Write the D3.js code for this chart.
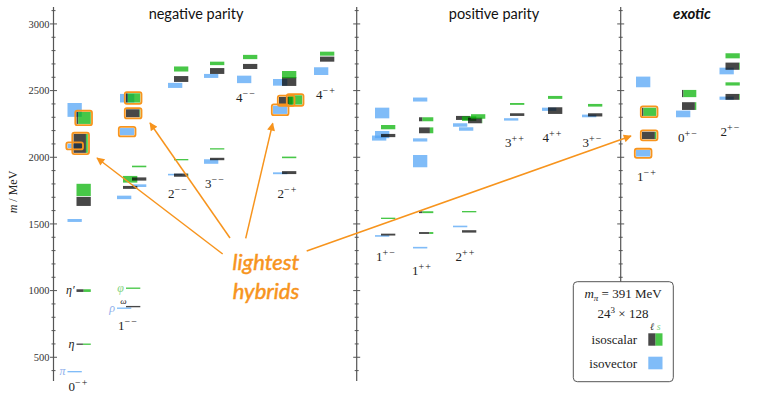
<!DOCTYPE html>
<html>
<head>
<meta charset="utf-8">
<script src="https://cdn.jsdelivr.net/npm/d3@7"></script>
<style>
  body { margin: 0; background: #fff; }
  .serif { font-family: 'Liberation Serif', 'DejaVu Serif', serif; }
  .sans { font-family: Lato, 'Open Sans', sans-serif; }
</style>
</head>
<body>
<svg id="chart" width="757" height="393"></svg>
<script>
// J^PC channels, left to right
const columns = ['0-+', '1--', '2--', '3--', '4--', '2-+', '4-+',
                 '1+-', '1++', '2++', '3++', '4++', '3+-',
                 '1-+', '0+-', '2+-'];
const panels = ['negative parity', 'positive parity', 'exotic'];

// isovector levels: [channel, mass (MeV), half error (MeV), slot, hybrid]
const isovector = [
  ['0-+', 392, 5, 0, false], ['0-+', 1526, 11, 0, false], ['0-+', 2085, 17, 0, true], ['0-+', 2355, 52, 0, false],
  ['1--', 868, 5, 0, false], ['1--', 1699, 13, 0, false], ['1--', 1787, 10, 5, false],
  ['1--', 2192, 27, 1, true], ['1--', 2443, 32, 1, false],
  ['2--', 1870, 6, 0, false], ['2--', 2539, 19, 0, false],
  ['3--', 1968, 17, 0, false], ['3--', 2610, 15, 0, false],
  ['4--', 2584, 28, 0, false],
  ['2-+', 1880, 7, 0, false], ['2-+', 2356, 31, 0, true], ['2-+', 2562, 25, 0, false],
  ['4-+', 2646, 29, 0, false],
  ['1+-', 1410, 6, 1, false], ['1+-', 2144, 19, 0, false], ['1+-', 2170, 27, 1, false], ['1+-', 2332, 40, 1, false],
  ['1++', 1322, 6, 0, false], ['1++', 1971, 46, 0, false], ['1++', 2130, 12, 0, false], ['1++', 2433, 15, 0, false],
  ['2++', 1481, 6, 0, false], ['2++', 2212, 13, 2, false], ['2++', 2242, 13, 0, false],
  ['3++', 2284, 9, 0, false],
  ['4++', 2360, 12, 0, false],
  ['3+-', 2310, 10, 0, false],
  ['1-+', 2030, 25, 0, true], ['1-+', 2565, 40, 0, false],
  ['0+-', 2325, 25, 0, false],
  ['2+-', 2443, 12, 0, false], ['2+-', 2647, 25, 0, false]
];

// isoscalar levels: [channel, mass, half error, strange fraction, slot, hybrid]
const isoscalar = [
  ['0-+', 598, 5, 0.55, 3, false], ['0-+', 1000, 10, 0.5, 3, false],
  ['0-+', 1669, 34, 0, 3, false], ['0-+', 1755, 46, 1, 3, false],
  ['0-+', 2104, 71, 0.13, 2, true], ['0-+', 2295, 45, 0.88, 3, true],
  ['1--', 880, 5, 0, 3, false], ['1--', 1018, 5, 1, 3, false],
  ['1--', 1774, 11, 0, 2, false], ['1--', 1835, 25, 1, 2, false], ['1--', 1837, 12, 0, 5, false],
  ['1--', 1931, 6, 1, 5, false], ['1--', 2330, 30, 0.05, 3, true], ['1--', 2445, 35, 0.88, 3, true],
  ['2--', 1866, 12, 0.03, 2, false], ['2--', 1982, 5, 1, 2, false], ['2--', 2587, 22, 0, 2, false], ['2--', 2662, 19, 1, 2, false],
  ['3--', 1987, 9, 0, 2, false], ['3--', 2063, 4, 1, 2, false], ['3--', 2647, 22, 0, 2, false], ['3--', 2704, 13, 1, 2, false],
  ['4--', 2681, 19, 0, 2, false], ['4--', 2752, 16, 1, 2, false],
  ['2-+', 1885, 11, 0, 3, false], ['2-+', 1999, 6, 1, 3, false],
  ['2-+', 2424, 29, 0.05, 2, true], ['2-+', 2430, 35, 0.97, 5, true],
  ['2-+', 2568, 33, 0, 3, false], ['2-+', 2620, 27, 1, 3, false],
  ['4-+', 2736, 19, 0, 2, false], ['4-+', 2777, 15, 1, 2, false],
  ['1+-', 1420, 7, 0, 3, false], ['1+-', 1542, 5, 1, 3, false], ['1+-', 2163, 12, 0, 3, false], ['1+-', 2226, 16, 1, 3, false],
  ['1++', 1432, 7, 0.27, 2, false], ['1++', 1588, 7, 0.76, 2, false], ['1++', 2202, 22, 0.24, 2, false], ['1++', 2285, 15, 0.76, 2, false],
  ['2++', 1444, 9, 0, 3, false], ['2++', 1592, 5, 1, 3, false], ['2++', 2295, 15, 0, 1, false],
  ['2++', 2290, 17, 1, 3, false], ['2++', 2276, 21, 0.03, 5, false], ['2++', 2306, 17, 1, 6, false],
  ['3++', 2320, 10, 0, 2, false], ['3++', 2400, 7, 1, 2, false],
  ['4++', 2350, 25, 0, 2, false], ['4++', 2449, 11, 1, 2, false],
  ['3+-', 2318, 12, 0, 2, false], ['3+-', 2390, 10, 1, 2, false],
  ['1-+', 2164, 28, 0.1, 2, true], ['1-+', 2341, 31, 0.9, 2, true],
  ['0+-', 2384, 29, 0.1, 2, false], ['0+-', 2478, 27, 0.9, 2, false],
  ['2+-', 2453, 22, 0.05, 2, false], ['2+-', 2550, 12, 1, 2, false],
  ['2+-', 2683, 27, 0.05, 2, false], ['2+-', 2761, 19, 1, 2, false]
];

// named ground states: [name, channel, mass, slot, kind]
const named = [
  ['π', '0-+', 392, 0, 'vec'], ['η', '0-+', 598, 3, 'light'], ['η′', '0-+', 1000, 3, 'light'],
  ['ρ', '1--', 868, 0, 'vec'], ['ω', '1--', 880, 3, 'light'], ['φ', '1--', 1018, 3, 'strange']
];

const massTicks = d3.range(400, 3101, 100);
const massLabels = [500, 1000, 1500, 2000, 2500, 3000];
const pionMass = 391;
const latticeL = 24, latticeT = 128;

// ---- layout ----
const colors = { vec: '#56a6f6', light: '#0a0a0a', strange: '#0bb40b', orange: '#f7941d', axis: '#555' };
const textColors = { vec: '#8fb0ec', light: '#222', strange: '#7fd47f' };
const colLeft = [67.5, 117, 168, 204, 237, 273, 314, 372, 413, 453, 504, 542, 582, 636, 676, 719.5];
const labelAt = { // [dx from column, baseline mass]
  '0-+': [11, 245], '1--': [11, 705], '2--': [10, 1695], '3--': [11, 1772], '4--': [9, 2417],
  '2-+': [14.5, 1691], '4-+': [12, 2437], '1+-': [14, 1222], '1++': [9, 1117], '2++': [12.5, 1222],
  '3++': [11, 2077], '4++': [10.5, 2117], '3+-': [10.5, 2080], '1-+': [11, 1825], '0+-': [12, 2117], '2+-': [11, 2160]
};
const axisX = [53.5, 356.7, 620.7];
const titleX = [196, 494, 692];
const boxW = 14.3;

const svg = d3.select('#chart');
const y = d3.scaleLinear().domain([322, 3127]).range([381, 7]);
const x = d3.scaleOrdinal(columns, colLeft);
const slot = d3.scaleLinear([0, 1], [0, 3]);

const defs = svg.append('defs');
defs.append('marker').attr('id', 'head')
  .attr('viewBox', '0 0 10 10').attr('refX', 9).attr('refY', 5)
  .attr('markerWidth', 9).attr('markerHeight', 8).attr('markerUnits', 'userSpaceOnUse')
  .attr('orient', 'auto')
  .append('path').attr('d', 'M0,0 L10,5 L0,10 z').attr('fill', colors.orange);

/* axes */
axisX.forEach((ax, i) => {
  const g = svg.append('g').attr('stroke', colors.axis);
  g.append('line').attr('x1', ax).attr('x2', ax).attr('y1', y(3127)).attr('y2', y(322)).attr('stroke-width', 1.2);
  g.selectAll('.tk').data(massTicks).enter().append('line')
    .attr('x1', d => ax - (d % 500 === 0 ? 3.5 : 2))
    .attr('x2', d => ax + (d % 500 === 0 ? 3.5 : 2))
    .attr('y1', d => y(d)).attr('y2', d => y(d)).attr('stroke-width', 1);
  if (i === 0) {
    svg.append('g').selectAll('text').data(massLabels).enter().append('text')
      .attr('class', 'serif').attr('font-size', 10.5).attr('fill', '#333')
      .attr('text-anchor', 'end').attr('x', ax - 4).attr('y', d => y(d) + 3.6)
      .text(d => d);
  }
});

const yl = svg.append('text').attr('class', 'serif').attr('font-size', 12).attr('fill', '#222')
  .attr('text-anchor', 'middle').attr('transform', 'translate(17,192) rotate(-90)');
yl.append('tspan').attr('font-style', 'italic').text('m');
yl.append('tspan').text(' / MeV');

/* panel titles */
svg.selectAll('.title').data(panels).enter().append('text')
  .attr('class', 'sans').attr('font-size', (d, i) => i === 2 ? 15 : 14.5)
  .attr('font-weight', (d, i) => i === 2 ? 'bold' : 'normal')
  .attr('font-style', (d, i) => i === 2 ? 'italic' : 'normal')
  .attr('fill', '#111').attr('text-anchor', 'middle')
  .attr('x', (d, i) => titleX[i]).attr('y', 18.5).text(d => d);

/* levels */
function box(m, err) {
  const top = y(m + err), bot = y(m - err);
  const h = Math.max(bot - top, 1.3);
  return { top: (top + bot) / 2 - h / 2, h };
}

const levels = svg.append('g');
isovector.forEach(([c, m, e, s]) => {
  const b = box(m, e);
  levels.append('rect').attr('x', x(c) + slot(s)).attr('y', b.top)
    .attr('width', boxW).attr('height', b.h)
    .attr('fill', colors.vec).attr('fill-opacity', 0.75);
});
isoscalar.forEach(([c, m, e, f, s]) => {
  const b = box(m, e);
  const x0 = x(c) + slot(s);
  const wl = boxW * (1 - f);
  if (wl > 0) levels.append('rect').attr('x', x0).attr('y', b.top).attr('width', wl).attr('height', b.h)
    .attr('fill', colors.light).attr('fill-opacity', 0.75);
  if (f > 0) levels.append('rect').attr('x', x0 + wl).attr('y', b.top).attr('width', boxW * f).attr('height', b.h)
    .attr('fill', colors.strange).attr('fill-opacity', 0.75);
});

/* hybrid outlines */
const hyb = isovector.filter(d => d[4]).map(d => [d[0], d[1], d[2], d[3]])
  .concat(isoscalar.filter(d => d[5]).map(d => [d[0], d[1], d[2], d[4]]));
svg.append('g').selectAll('rect').data(hyb).enter().append('rect')
  .attr('x', d => x(d[0]) + slot(d[3]) - 1.2)
  .attr('y', d => box(d[1], d[2]).top - 1.2)
  .attr('width', boxW + 2.4)
  .attr('height', d => box(d[1], d[2]).h + 2.4)
  .attr('rx', 2).attr('fill', 'none').attr('stroke', colors.orange).attr('stroke-width', 1.8);

/* named states */
named.forEach(([n, c, m, s, k]) => {
  const t = svg.append('text').attr('class', 'serif').attr('font-style', 'italic').attr('fill', textColors[k])
    .attr('text-anchor', 'end');
  if (n === 'ω') {
    t.attr('font-size', 9).attr('x', x(c) + slot(s) + 0.5).attr('y', y(m) - 2.5).text(n);
  } else {
    t.attr('font-size', 12).attr('x', x(c) + slot(s) - 2).attr('y', y(m) + 3.5).text(n);
  }
});

/* channel labels */
columns.forEach(c => {
  const [dx, mm] = labelAt[c];
  const t = svg.append('text').attr('class', 'serif').attr('fill', '#222').attr('text-anchor', 'middle')
    .attr('x', x(c) + dx).attr('y', y(mm));
  t.append('tspan').attr('font-size', 13).text(c[0]);
  t.append('tspan').attr('font-size', 10).attr('dy', -5).attr('letter-spacing', 1)
    .text(c.slice(1).replace(/-/g, '\u2212'));
});

/* annotation */
const arrows = [[222.7, 254, 97, 158], [230, 238, 150, 123], [245.7, 238.3, 272.7, 123.3], [306.7, 251, 631, 136]];
svg.append('g').selectAll('line').data(arrows).enter().append('line')
  .attr('x1', d => d[0]).attr('y1', d => d[1]).attr('x2', d => d[2]).attr('y2', d => d[3])
  .attr('stroke', colors.orange).attr('stroke-width', 1.5).attr('marker-end', 'url(#head)');
svg.selectAll('.hyb').data(['lightest', 'hybrids']).enter().append('text')
  .attr('class', 'sans').attr('font-style', 'italic').attr('font-size', 22).attr('fill', colors.orange)
  .attr('stroke', colors.orange).attr('stroke-width', 0.5)
  .attr('text-anchor', 'middle').attr('x', 266).attr('y', (d, i) => 270 + i * 29).text(d => d);

/* legend */
const lg = svg.append('g');
lg.append('rect').attr('x', 573.3).attr('y', 281.7).attr('width', 100).attr('height', 100).attr('rx', 4)
  .attr('fill', '#fff').attr('stroke', '#555').attr('stroke-width', 1);
const t1 = lg.append('text').attr('class', 'serif').attr('font-size', 13).attr('fill', '#222')
  .attr('text-anchor', 'middle').attr('x', 623).attr('y', 297.7);
t1.append('tspan').attr('font-style', 'italic').text('m');
t1.append('tspan').attr('font-style', 'italic').attr('font-size', 9).attr('dy', 3).text('π');
t1.append('tspan').attr('dy', -3).text(' = ' + pionMass + ' MeV');
const t2 = lg.append('text').attr('class', 'serif').attr('font-size', 13).attr('fill', '#222')
  .attr('text-anchor', 'middle').attr('x', 623).attr('y', 318);
t2.append('tspan').text(latticeL);
t2.append('tspan').attr('font-size', 9).attr('dy', -5).text('3');
t2.append('tspan').attr('dy', 5).text(' × ' + latticeT);
lg.append('text').attr('class', 'serif').attr('font-size', 13).attr('fill', '#222')
  .attr('text-anchor', 'end').attr('x', 637).attr('y', 344).text('isoscalar');
lg.append('text').attr('class', 'serif').attr('font-size', 13).attr('fill', '#222')
  .attr('text-anchor', 'end').attr('x', 637).attr('y', 367.7).text('isovector');
lg.append('rect').attr('x', 648.3).attr('y', 333.3).attr('width', 7.2).attr('height', 12.4)
  .attr('fill', colors.light).attr('fill-opacity', 0.75);
lg.append('rect').attr('x', 655.5).attr('y', 333.3).attr('width', 7).attr('height', 12.4)
  .attr('fill', colors.strange).attr('fill-opacity', 0.75);
lg.append('rect').attr('x', 648.3).attr('y', 356.7).attr('width', 14.2).attr('height', 12.6)
  .attr('fill', colors.vec).attr('fill-opacity', 0.75);
lg.append('text').attr('class', 'serif').attr('font-style', 'italic').attr('font-size', 10).attr('fill', '#333')
  .attr('text-anchor', 'middle').attr('x', 652).attr('y', 330).text('ℓ');
lg.append('text').attr('class', 'serif').attr('font-style', 'italic').attr('font-size', 10).attr('fill', textColors.strange)
  .attr('text-anchor', 'middle').attr('x', 658.8).attr('y', 330).text('s');
</script>
</body>
</html>
